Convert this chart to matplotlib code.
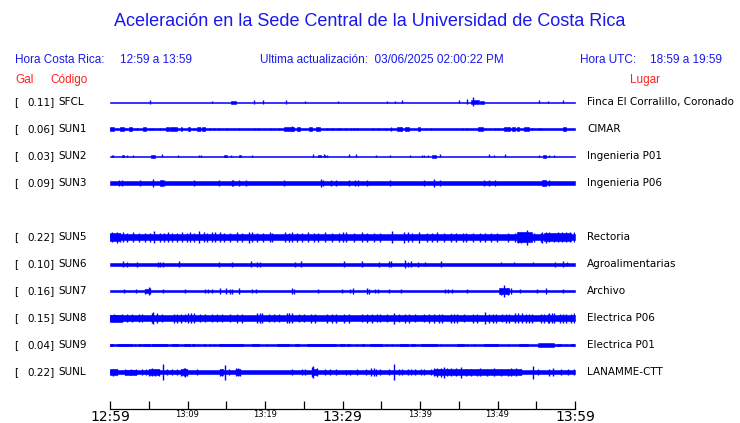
import numpy as np
import matplotlib.pyplot as plt

# Estaciones (de arriba hacia abajo)
codigos = ['SFCL', 'SUN1', 'SUN2', 'SUN3', 'SUN5', 'SUN6', 'SUN7', 'SUN8', 'SUN9', 'SUNL']
gal = [0.11, 0.06, 0.03, 0.09, 0.22, 0.10, 0.16, 0.15, 0.04, 0.22]
lugares = ['Finca El Corralillo, Coronado', 'CIMAR', 'Ingenieria P01', 'Ingenieria P06',
           'Rectoria', 'Agroalimentarias', 'Archivo', 'Electrica P06', 'Electrica P01',
           'LANAMME-CTT']

# media amplitud del ruido de fondo de cada traza (pixeles)
fondo = [0.5, 0.6, 0.5, 1.7, 3.3, 1.5, 1.3, 2.7, 0.6, 1.7]

# picos: (minuto desde 12:59, media amplitud en pixeles)
picos = {
    'SFCL': [(5.1, 1.7), (13.1, 1.2), (18.6, 2.3), (19.7, 1.8), (22.7, 2.3), (25.1, 1.3),
             (29.4, 1.3), (35.7, 1.2), (36.8, 1.2), (37.7, 1.5), (45.0, 1.5), (46.1, 2.5),
             (46.9, 4.5), (55.3, 1.5), (56.5, 1.2), (58.4, 1.5)],
    'SUN1': [(0.95, 1.3), (2.1, 1.3), (3.5, 1.3), (5.1, 1.3), (5.5, 1.3), (6.5, 1.3),
             (10.9, 1.3), (11.55, 2.3), (12.9, 1.3), (13.4, 1.3), (14.1, 1.3), (15.1, 1.3),
             (16.6, 1.3), (18.6, 1.3), (19.1, 1.3), (20.6, 1.3), (21.8, 1.3), (23.5, 2.5),
             (28.0, 1.3), (28.5, 1.3), (28.8, 1.3), (29.4, 1.3), (29.7, 1.3), (30.4, 1.3),
             (31.1, 1.3), (31.5, 1.3), (31.9, 1.3), (33.9, 1.3), (34.6, 1.3), (35.6, 1.3),
             (36.3, 2.3), (37.5, 2.0), (41.4, 1.3), (45.4, 1.3), (46.1, 1.3), (48.4, 1.3),
             (49.7, 1.3), (50.1, 1.3), (54.4, 1.3), (55.3, 1.3), (55.6, 1.3)],
    'SUN2': [(0.2, 1.3), (0.4, 1.3), (2.2, 1.3), (3.0, 1.3), (6.7, 1.5), (8.8, 1.3),
             (11.5, 1.3), (11.8, 1.3), (15.6, 1.3), (18.3, 1.3), (26.2, 1.5), (27.6, 1.5),
             (27.8, 1.3), (28.0, 1.3), (30.9, 1.5), (31.8, 1.5), (34.3, 1.2), (36.1, 1.2),
             (38.7, 1.2), (40.2, 1.3), (40.5, 1.3), (41.0, 1.3), (42.6, 1.5), (48.9, 1.5),
             (49.6, 1.2), (51.0, 1.5), (55.4, 1.3), (56.7, 1.3), (57.3, 1.3)],
    'SUN3': [(1.1, 2.7), (1.6, 3.0), (3.9, 2.7), (5.6, 4.0), (7.0, 2.7), (10.8, 3.0),
             (14.1, 2.7), (15.8, 2.7), (15.9, 3.0), (16.7, 3.0), (17.5, 2.7), (22.5, 2.7),
             (27.2, 4.0), (27.5, 3.0), (28.5, 3.0), (29.1, 2.7), (30.9, 3.0), (31.6, 2.7),
             (32.0, 2.7), (33.2, 3.0), (36.1, 2.7), (40.5, 3.0), (41.8, 4.0), (42.6, 3.0),
             (48.3, 2.7), (48.9, 3.0), (49.7, 2.7), (56.7, 2.7)],
    'SUN5': [(0.3, 5), (0.9, 5.5), (1.3, 4.5), (1.7, 5), (2.2, 4.5), (3.0, 5), (3.7, 4.5),
             (4.5, 4.5), (5.2, 4.5), (5.7, 6), (6.5, 4.5), (7.0, 4.5), (7.5, 5), (8.0, 4.5),
             (8.6, 4.5), (9.3, 5), (9.9, 4.5), (10.3, 5), (10.8, 4.5), (11.5, 6), (12.1, 5),
             (12.5, 4.5), (13.1, 5), (13.6, 5), (14.2, 5), (14.7, 4.5), (15.5, 4.5),
             (16.4, 5), (17.0, 4.5), (17.9, 5.5), (18.3, 5), (19.0, 4.5), (19.8, 4.5),
             (20.6, 5), (20.9, 4.5), (22.6, 5), (23.1, 4.5), (23.5, 5), (24.1, 4.5),
             (24.8, 4.5), (25.6, 5), (26.3, 4.5), (26.9, 4.5), (27.8, 5), (28.6, 4.5),
             (29.5, 4.5), (30.0, 5), (30.4, 5), (31.5, 4.5), (32.5, 5), (33.2, 4.5),
             (34.1, 4.5), (34.9, 4.5), (36.4, 6), (37.9, 5.5), (38.4, 5), (39.0, 4.5),
             (39.9, 5.5), (40.9, 4.5), (41.6, 4.5), (42.2, 5), (43.1, 4.5), (44.0, 4.5),
             (44.6, 4.5), (45.5, 4.5), (45.9, 4.5), (46.8, 4.5), (47.8, 4.5), (48.4, 4.5),
             (49.1, 4.5), (49.9, 4.5), (51.3, 4.5), (52.2, 4.5), (52.6, 5.5), (53.0, 5.5),
             (53.4, 5), (53.8, 7.5), (54.7, 4.5), (55.6, 4.5), (55.8, 5.5), (56.3, 5.5),
             (56.7, 5), (57.3, 4.5), (57.8, 5), (58.3, 5), (58.8, 5), (59.3, 5), (59.9, 5)],
    'SUN6': [(1.7, 3.3), (2.2, 2.5), (3.5, 2.5), (6.2, 2.5), (6.5, 2.5), (6.9, 2.5),
             (8.9, 3.0), (14.1, 2.5), (15.7, 2.5), (18.2, 3.3), (19.0, 2.5), (19.4, 2.5),
             (23.9, 2.5), (24.6, 3.0), (30.2, 2.7), (32.5, 2.7), (34.7, 2.5), (36.0, 2.7),
             (36.3, 2.7), (38.1, 4.0), (38.4, 2.5), (38.9, 3.3), (39.7, 2.5), (40.7, 2.2),
             (42.7, 2.7), (50.4, 2.2), (52.1, 2.2), (54.6, 2.2), (57.4, 2.5), (58.5, 2.7),
             (59.0, 2.2)],
    'SUN7': [(1.8, 2.2), (3.4, 2.2), (4.5, 2.5), (5.0, 4.0), (5.2, 2.7), (6.8, 2.2),
             (9.7, 2.0), (12.3, 2.2), (12.7, 2.2), (13.1, 2.2), (14.2, 3.3), (15.0, 3.3),
             (15.5, 2.5), (15.8, 2.5), (16.6, 2.7), (18.3, 2.2), (18.8, 2.2), (23.5, 3.0),
             (23.7, 2.5), (26.9, 2.0), (29.9, 2.2), (31.0, 2.2), (31.4, 2.7), (33.1, 3.3),
             (33.4, 2.5), (34.2, 2.2), (34.6, 2.2), (36.0, 2.2), (37.5, 2.0), (43.2, 2.2),
             (43.6, 2.2), (44.1, 2.2), (46.1, 2.0), (50.4, 3.5), (50.9, 6.0), (51.3, 3.5),
             (51.7, 3.0), (52.9, 2.2), (55.1, 2.2), (56.3, 2.7), (58.5, 2.2)],
    'SUN8': [(0.5, 4), (1.5, 4), (2.2, 4), (2.9, 4), (3.7, 4), (4.1, 4), (5.4, 5), (5.6, 6),
             (6.0, 5), (6.7, 4), (8.2, 4.5), (8.6, 4.5), (9.1, 4.5), (9.7, 4), (10.1, 5),
             (10.5, 5), (10.8, 5), (11.6, 4), (12.3, 4), (13.1, 4), (13.8, 4), (14.5, 4),
             (15.5, 4), (16.4, 4.5), (17.0, 4.5), (19.0, 5), (19.3, 5), (19.6, 5), (20.5, 4),
             (21.1, 4), (21.8, 4), (22.8, 5), (23.1, 5), (23.5, 5), (24.4, 4), (25.0, 4),
             (25.9, 4.5), (26.5, 4.5), (28.0, 4.5), (28.6, 4.5), (29.1, 4.5), (30.2, 4.5),
             (30.8, 4.5), (32.5, 4), (33.2, 4.5), (33.8, 4.5), (34.5, 4), (34.9, 4),
             (35.8, 4), (36.6, 5.5), (37.3, 4), (38.1, 4.5), (38.6, 4.5), (39.4, 4),
             (40.5, 4), (41.2, 4.5), (41.8, 4.5), (42.5, 4.5), (42.9, 4.5), (44.0, 4.5),
             (44.4, 4.5), (44.8, 4.5), (45.7, 4), (46.8, 4.5), (47.4, 4.5), (48.4, 6.3),
             (48.9, 4.5), (49.4, 4.5), (49.8, 4.5), (50.6, 4), (51.1, 4.5), (51.5, 4.5),
             (52.2, 5), (52.6, 5), (53.2, 5), (53.7, 4.5), (54.1, 4.5), (54.5, 4.5),
             (55.6, 4.5), (56.0, 4.5), (56.5, 4.5), (56.7, 5), (57.0, 5), (57.3, 5),
             (58.0, 4.5), (58.4, 4.5), (58.8, 4.5), (59.5, 4.5), (59.9, 5)],
    'SUN9': [(3.2, 1.3), (11.4, 1.3), (12.9, 1.3), (13.4, 1.3), (20.3, 1.3), (30.2, 1.3),
             (31.9, 1.3), (35.8, 1.3), (36.4, 1.3), (42.7, 1.3), (46.1, 1.3), (47.0, 1.3),
             (51.3, 1.3), (58.8, 1.3)],
    'SUNL': [(0.4, 3.5), (0.9, 3.0), (1.9, 3.0), (2.7, 3.3), (3.4, 3.0), (4.1, 2.7),
             (4.7, 2.7), (5.0, 3.5), (5.4, 4.0), (5.8, 3.5), (6.3, 3.5), (6.8, 8.0),
             (7.3, 3.0), (8.0, 2.7), (8.6, 2.7), (9.2, 3.5), (9.5, 4.0), (9.7, 4.5),
             (9.9, 3.5), (11.2, 2.7), (14.2, 3.5), (14.5, 3.5), (14.8, 7.5), (15.3, 3.0),
             (16.2, 4.0), (16.5, 4.0), (16.8, 3.5), (23.5, 2.7), (24.8, 3.0), (25.2, 3.0),
             (26.1, 5.0), (26.2, 6.0), (26.7, 4.0), (27.8, 3.0), (28.4, 3.0), (29.1, 2.7),
             (30.4, 2.5), (31.0, 2.5), (31.9, 2.7), (33.0, 2.7), (33.7, 4.0), (34.0, 4.0),
             (34.3, 3.5), (34.9, 2.7), (36.0, 2.7), (36.6, 8.0), (37.3, 3.0), (37.7, 3.0),
             (38.4, 3.0), (38.8, 3.3), (39.4, 3.3), (40.1, 3.3), (40.5, 3.0), (41.4, 3.0),
             (41.8, 4.0), (42.2, 4.5), (42.7, 4.5), (43.1, 5.5), (43.5, 4.0), (44.0, 4.0),
             (44.6, 4.0), (45.3, 5.5), (45.9, 3.5), (46.6, 3.5), (47.4, 3.5), (47.8, 4.0),
             (48.7, 3.5), (49.6, 4.0), (50.4, 3.5), (51.3, 3.5), (51.7, 4.0), (52.4, 4.0),
             (53.0, 3.0), (54.6, 6.5), (55.2, 2.7), (56.7, 3.5), (57.2, 4.0), (58.2, 2.7),
             (59.1, 2.7), (59.9, 2.7)],
}

# tramos con ruido algo mayor: (minuto inicio, minuto fin, media amplitud)
tramos = {
    'SFCL': [(15.6, 16.2, 1.5), (46.6, 47.6, 2.0), (47.8, 48.3, 1.5)],
    'SUN1': [(0.0, 0.5, 1.6), (1.3, 1.8, 1.6), (2.4, 2.9, 1.6), (4.3, 4.7, 1.6),
             (7.2, 7.6, 1.6), (7.8, 8.7, 1.6), (9.1, 9.3, 1.6), (10.0, 10.3, 1.6),
             (11.2, 11.6, 1.6), (11.9, 12.2, 1.6), (22.5, 23.8, 1.8), (24.1, 24.5, 1.6),
             (25.7, 26.1, 1.6), (26.6, 27.1, 1.6), (37.0, 37.7, 1.8), (38.1, 38.6, 1.6),
             (39.7, 40.0, 1.6), (47.5, 48.1, 1.6), (50.9, 51.6, 1.6), (51.9, 52.2, 1.6),
             (52.5, 52.8, 1.6), (53.4, 54.1, 1.6), (58.5, 58.9, 1.6)],
    'SUN2': [(1.5, 1.8, 1.3), (5.3, 5.8, 1.5), (14.7, 15.1, 1.3), (16.6, 16.9, 1.3),
             (26.9, 27.2, 1.3), (41.6, 42.0, 1.5), (55.9, 56.2, 1.5)],
    'SUN3': [(6.5, 6.9, 2.7), (55.8, 56.3, 3.0)],
    'SUN5': [(0.0, 1.3, 4.2), (52.5, 54.5, 5.0), (56.0, 59.5, 4.2)],
    'SUN6': [],
    'SUN7': [(4.5, 5.2, 2.2), (50.2, 51.5, 3.0)],
    'SUN8': [(0.0, 1.5, 3.5)],
    'SUN9': [(0.0, 0.4, 1.4), (0.9, 2.8, 1.4), (3.7, 4.0, 1.4), (4.3, 5.2, 1.4),
             (5.4, 7.3, 1.4), (8.0, 8.8, 1.4), (9.5, 10.3, 1.4), (10.6, 11.0, 1.4),
             (12.1, 12.3, 1.4), (14.0, 17.2, 1.4), (18.3, 19.2, 1.4), (21.6, 23.1, 1.4),
             (23.9, 24.4, 1.4), (25.4, 29.1, 1.4), (29.7, 30.2, 1.4), (30.6, 31.0, 1.4),
             (32.5, 32.8, 1.4), (33.6, 35.1, 1.4), (37.4, 38.4, 1.4), (38.8, 39.4, 1.4),
             (40.1, 42.2, 1.4), (44.8, 45.7, 1.4), (48.3, 50.0, 1.4), (52.8, 53.9, 1.4),
             (55.2, 57.3, 1.6), (57.7, 58.2, 1.4), (59.5, 59.9, 1.4)],
    'SUNL': [(0.0, 0.9, 2.7), (1.9, 3.4, 2.5), (5.0, 6.3, 2.7), (9.2, 9.9, 3.0),
             (14.2, 14.6, 2.7), (16.2, 16.8, 3.0), (26.0, 26.7, 3.0), (41.8, 53.0, 2.7)],
}

minutos = np.arange(0, 61, 5)
etiquetas = ['12:59', '13:09', '13:19', '13:29', '13:39', '13:49', '13:59']
etiquetas_ticks = []
for m in minutos:
    if m % 10 == 0:
        etiquetas_ticks.append(etiquetas[m // 10])
    else:
        etiquetas_ticks.append('')

azul = '#0000ff'
azul_txt = '#1818ee'
rojo = '#ff2020'

fig = plt.figure(figsize=(7.4, 4.23), dpi=100)
W, H = 740, 423
# ejes en pixeles: y desde arriba
ax = fig.add_axes([110 / W, 1 - 409 / H, 465 / W, (409 - 88) / H])
ax.set_xlim(0, 60)
ax.set_ylim(409, 88)

for i, cod in enumerate(codigos):
    fila = i if i < 4 else i + 1
    y = 102 + 27 * fila
    b = fondo[i]
    ax.fill_between([0, 60], y - b, y + b, color=azul, lw=0.4)
    for t0, t1, h in tramos[cod]:
        ax.fill_between([t0, t1], y - h, y + h, color=azul, lw=0.4)
    t = [p[0] for p in picos[cod]]
    h = np.array([p[1] for p in picos[cod]])
    ax.vlines(t, y - h, y + h, color=azul, lw=1.0)

    fig.text(14 / W, 1 - y / H, '[', fontsize=7.5, va='center', family='DejaVu Sans')
    fig.text(55 / W, 1 - y / H, '%.2f]' % gal[i], fontsize=7.5, va='center', ha='right',
             family='DejaVu Sans')
    fig.text(58 / W, 1 - y / H, cod, fontsize=7.5, va='center', family='DejaVu Sans')
    fig.text(587 / W, 1 - y / H, lugares[i], fontsize=7.5, va='center',
             family='DejaVu Sans')

for s in ['left', 'right', 'top']:
    ax.spines[s].set_visible(False)
ax.spines['bottom'].set_linewidth(0.9)
ax.set_yticks([])
ax.set_xticks(minutos)
ax.set_xticklabels(etiquetas_ticks)
ax.tick_params(axis='x', direction='in', length=6, width=0.9, pad=1)
for lab in ax.get_xticklabels():
    if lab.get_text() in ('12:59', '13:29', '13:59'):
        lab.set_fontsize(10)
    else:
        lab.set_fontsize(6)

fs = 8.5
fig.text(0.5, 1 - 22 / H, 'Aceleración en la Sede Central de la Universidad de Costa Rica',
         ha='center', va='center', fontsize=13, color=azul_txt, family='Liberation Sans')
fig.text(15 / W, 1 - 60 / H, 'Hora Costa Rica:', fontsize=fs, va='center', color=azul_txt,
         family='Liberation Sans')
fig.text(120 / W, 1 - 60 / H, '12:59 a 13:59', fontsize=fs, va='center', color=azul_txt,
         family='Liberation Sans')
fig.text(260 / W, 1 - 60 / H, 'Ultima actualización:  03/06/2025 02:00:22 PM', fontsize=fs,
         va='center', color=azul_txt, family='Liberation Sans')
fig.text(580 / W, 1 - 60 / H, 'Hora UTC:', fontsize=fs, va='center', color=azul_txt,
         family='Liberation Sans')
fig.text(650 / W, 1 - 60 / H, '18:59 a 19:59', fontsize=fs, va='center', color=azul_txt,
         family='Liberation Sans')
fig.text(15 / W, 1 - 80 / H, 'Gal', fontsize=fs, va='center', color=rojo,
         family='Liberation Sans')
fig.text(50 / W, 1 - 80 / H, 'Código', fontsize=fs, va='center', color=rojo,
         family='Liberation Sans')
fig.text(630 / W, 1 - 80 / H, 'Lugar', fontsize=fs, va='center', color=rojo,
         family='Liberation Sans')

fig.savefig('out.png', dpi=100)
